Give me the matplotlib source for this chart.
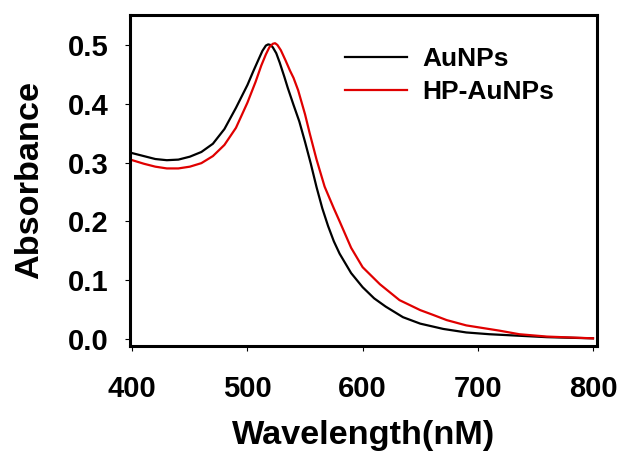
import matplotlib.pyplot as plt
import numpy as np

plt.rcParams['font.family'] = ['Liberation Sans', 'DejaVu Sans']
plt.rcParams['font.weight'] = 'bold'

# AuNPs spectrum
wl_au = [400, 410, 420, 430, 440, 450, 460, 470, 480, 490, 500, 505, 510, 513, 516,
         518, 520, 522, 525, 528, 532, 535, 540, 545, 550, 555, 560, 565, 570, 575,
         580, 590, 600, 610, 620, 635, 650, 670, 690, 710, 730, 760, 800]
abs_au = [0.316, 0.311, 0.306, 0.304, 0.305, 0.310, 0.318, 0.332, 0.357, 0.393, 0.432,
          0.455, 0.477, 0.490, 0.499, 0.501, 0.500, 0.496, 0.486, 0.470, 0.446, 0.427,
          0.398, 0.370, 0.335, 0.298, 0.258, 0.222, 0.192, 0.166, 0.145, 0.112, 0.088,
          0.069, 0.055, 0.037, 0.026, 0.017, 0.011, 0.008, 0.006, 0.003, 0.001]

# HP-AuNPs spectrum
wl_hp = [400, 410, 420, 430, 440, 450, 460, 470, 480, 490, 500, 507, 512, 516, 519,
         522, 524, 526, 529, 533, 537, 540, 544, 550, 554, 560, 567, 575, 580, 590,
         600, 615, 632, 650, 661, 673, 690, 719, 736, 760, 800]
abs_hp = [0.304, 0.298, 0.293, 0.290, 0.290, 0.293, 0.299, 0.311, 0.330, 0.359, 0.402,
          0.437, 0.465, 0.484, 0.496, 0.502, 0.503, 0.500, 0.491, 0.474, 0.456, 0.444,
          0.423, 0.382, 0.350, 0.305, 0.259, 0.222, 0.200, 0.155, 0.122, 0.093, 0.066,
          0.049, 0.041, 0.032, 0.023, 0.014, 0.008, 0.004, 0.001]

fig = plt.figure(figsize=(6.21, 4.61), dpi=100)
ax = fig.add_axes([0.2093, 0.2495, 0.7521, 0.718])

ax.plot(wl_au, abs_au, color='black', lw=1.6, label='AuNPs')
ax.plot(wl_hp, abs_hp, color='#e00000', lw=1.6, label='HP-AuNPs')

ax.set_xlim(398, 803.5)
ax.set_ylim(-0.012, 0.551)
ax.set_xticks([400, 500, 600, 700, 800])
ax.set_yticks([0.0, 0.1, 0.2, 0.3, 0.4, 0.5])
ax.set_yticklabels(['0.0', '0.1', '0.2', '0.3', '0.4', '0.5'])

for s in ax.spines.values():
    s.set_linewidth(2.2)
ax.tick_params(axis='both', direction='out', length=3.5, width=0.8, labelsize=21)
ax.tick_params(axis='y', pad=12)
ax.tick_params(axis='x', pad=17.5)

ax.set_xlabel('Wavelength(nM)', fontsize=24.7, fontweight='bold', labelpad=12)
ax.set_ylabel('Absorbance', fontsize=24.7, fontweight='bold', labelpad=16)

ax.legend(loc='upper left', bbox_to_anchor=(0.46, 0.903), frameon=False,
          fontsize=19, handlelength=2.35, handletextpad=0.57, labelspacing=0.33,
          borderpad=0, borderaxespad=0)

fig.savefig('out.png', dpi=100)
